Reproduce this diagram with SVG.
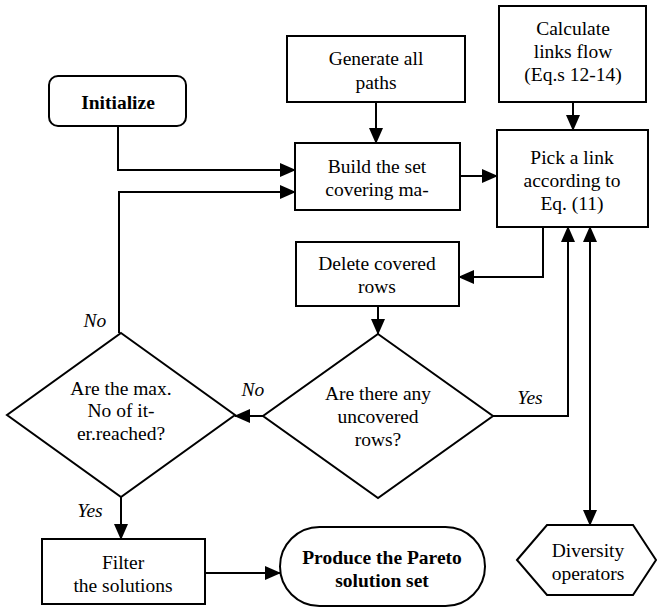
<svg xmlns="http://www.w3.org/2000/svg" width="658" height="609" viewBox="0 0 658 609" font-family="Liberation Serif, Times New Roman, serif">
<style>
.b{fill:#fff;stroke:#000;stroke-width:2}
.t{font-family:"Liberation Serif","Times New Roman",serif;font-size:19.5px;text-anchor:middle;fill:#000}
.bd{font-weight:bold}
.i{font-style:italic}
.c{fill:none;stroke:#000;stroke-width:2}
</style>
<defs>
<marker id="a" markerUnits="userSpaceOnUse" markerWidth="16" markerHeight="14" refX="15" refY="7" orient="auto-start-reverse" viewBox="0 0 16 14">
<path d="M0,0 L16,7 L0,14 Z" fill="#000"/>
</marker>
</defs>
<rect width="658" height="609" fill="#fff"/>
<g id="connectors">
<path class="c" d="M118,126 V170 H295" marker-end="url(#a)"/>
<path class="c" d="M119,333 V192 H295" marker-end="url(#a)"/>
<path class="c" d="M376,102 V143" marker-end="url(#a)"/>
<path class="c" d="M573,102 V130" marker-end="url(#a)"/>
<path class="c" d="M460,176 H497" marker-end="url(#a)"/>
<path class="c" d="M543,227 V277 H459" marker-end="url(#a)"/>
<path class="c" d="M378,306 V334" marker-end="url(#a)"/>
<path class="c" d="M493,416 H568 V227" marker-end="url(#a)"/>
<path class="c" d="M590,227 V525" marker-start="url(#a)" marker-end="url(#a)"/>
<path class="c" d="M263,416 H235" marker-end="url(#a)"/>
<path class="c" d="M121,497 V539" marker-end="url(#a)"/>
<path class="c" d="M205,573 H280" marker-end="url(#a)"/>
<text class="t i" x="95" y="327">No</text>
<text class="t i" x="253" y="396">No</text>
<text class="t i" x="530" y="404">Yes</text>
<text class="t i" x="90" y="517">Yes</text>
</g>
<g id="initialize">
<rect class="b" x="49" y="76" width="137" height="50" rx="9"/>
<text class="t bd" x="118" y="109">Initialize</text>
</g>
<g id="generate">
<rect class="b" x="287" y="36" width="178" height="66"/>
<text class="t" x="376" y="65">Generate all</text>
<text class="t" x="376" y="89">paths</text>
</g>
<g id="calculate">
<rect class="b" x="499" y="6" width="147" height="96"/>
<text class="t" x="573" y="35">Calculate</text>
<text class="t" x="573" y="58">links flow</text>
<text class="t" x="573" y="81">(Eq.s 12-14)</text>
</g>
<g id="build">
<rect class="b" x="295" y="143" width="165" height="67"/>
<text class="t" x="377" y="173">Build the set</text>
<text class="t" x="377" y="196">covering ma-</text>
</g>
<g id="pick">
<rect class="b" x="497" y="130" width="151" height="97"/>
<text class="t" x="572" y="164">Pick a link</text>
<text class="t" x="572" y="187">according to</text>
<text class="t" x="572" y="210">Eq. (11)</text>
</g>
<g id="delete">
<rect class="b" x="296" y="242" width="163" height="64"/>
<text class="t" x="377" y="270">Delete covered</text>
<text class="t" x="377" y="293">rows</text>
</g>
<g id="uncovered">
<polygon class="b" points="378,334 493,416 378,498 263,416"/>
<text class="t" x="378" y="400">Are there any</text>
<text class="t" x="378" y="423">uncovered</text>
<text class="t" x="378" y="446">rows?</text>
</g>
<g id="maxiter">
<polygon class="b" points="121,333 235,415 121,497 7,415"/>
<text class="t" x="121" y="395">Are the max.</text>
<text class="t" x="121" y="417">No of it-</text>
<text class="t" x="121" y="440">er.reached?</text>
</g>
<g id="filter">
<rect class="b" x="42" y="539" width="163" height="65"/>
<text class="t" x="123" y="569">Filter</text>
<text class="t" x="123" y="592">the solutions</text>
</g>
<g id="produce">
<rect class="b" x="280" y="527" width="205" height="79" rx="39.5"/>
<text class="t bd" x="382" y="564">Produce the Pareto</text>
<text class="t bd" x="382" y="587">solution set</text>
</g>
<g id="diversity">
<polygon class="b" points="517,560 547,525 633,525 656,560 633,595 547,595"/>
<text class="t" x="588" y="557">Diversity</text>
<text class="t" x="588" y="580">operators</text>
</g>
</svg>
